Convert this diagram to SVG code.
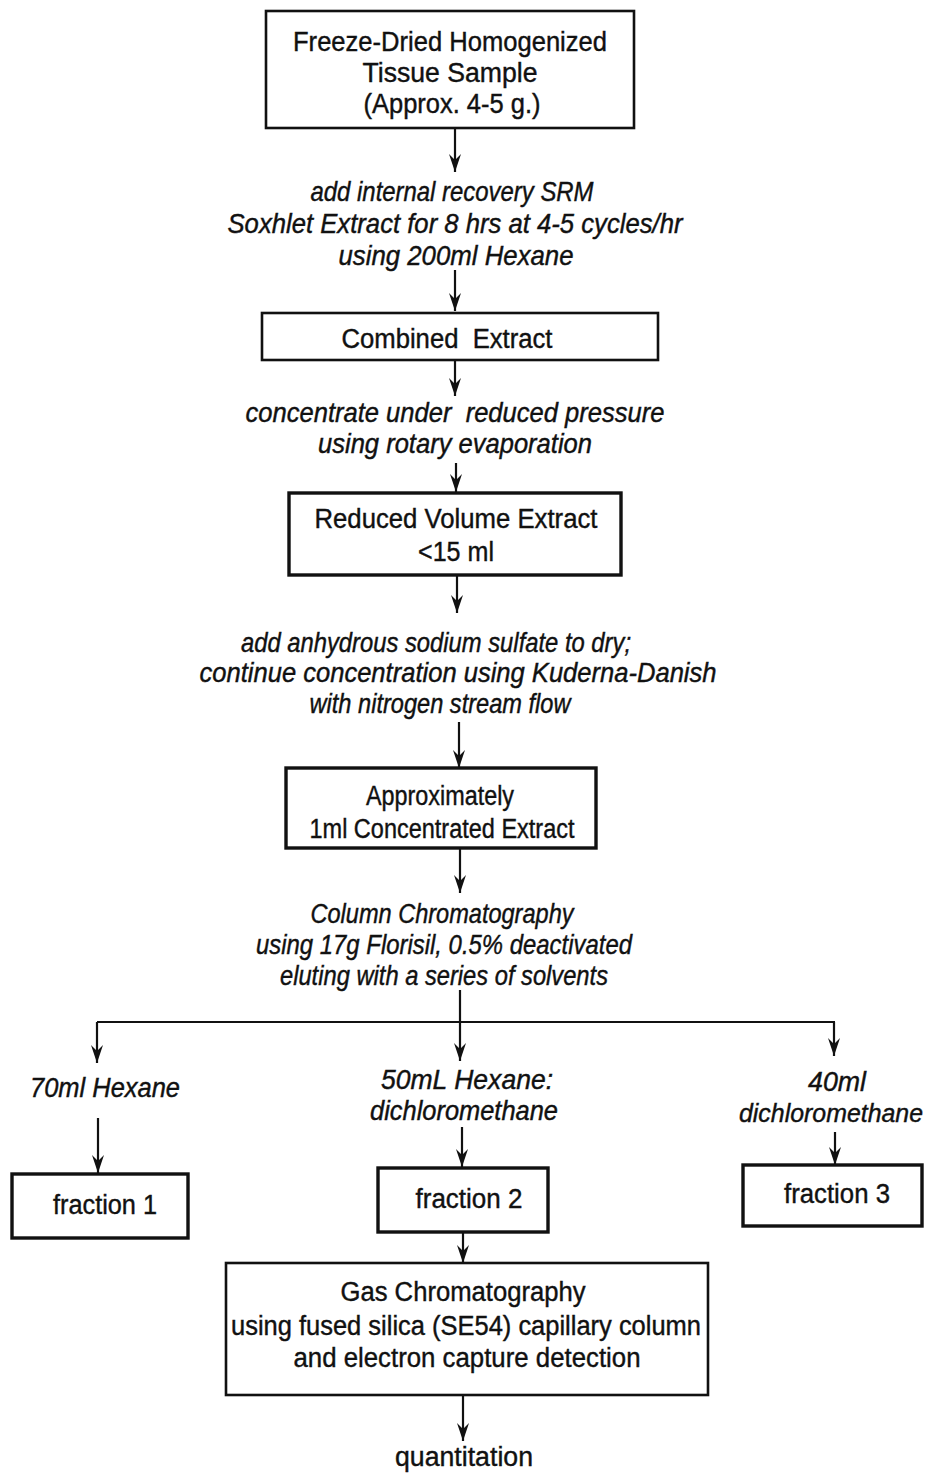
<svg xmlns="http://www.w3.org/2000/svg" width="931" height="1475" viewBox="0 0 931 1475">
<defs>
<marker id="ah" viewBox="0 0 18 12" refX="18" refY="6" markerWidth="18" markerHeight="12" markerUnits="userSpaceOnUse" orient="auto">
<path d="M0,0 L6,6 L0,12 L18,6 Z" fill="#111"/>
</marker>
<style>
.box{fill:#fff;stroke:#111;stroke-width:2.6}
.boxb{fill:#fff;stroke:#111;stroke-width:3.4}
.t{font-family:"Liberation Sans",Arial,sans-serif;font-size:27px;fill:#111;stroke:#111;stroke-width:0.4;text-anchor:middle}
.i{font-family:"Liberation Sans",Arial,sans-serif;font-size:27px;font-style:italic;fill:#111;stroke:#111;stroke-width:0.4;text-anchor:middle}
.c{stroke:#111;stroke-width:2.2;fill:none}
.ca{stroke:#111;stroke-width:2.2;fill:none;marker-end:url(#ah)}
</style>
</defs>
<rect width="931" height="1475" fill="#fff"/>

<g id="connectors">
<line class="ca" x1="455" y1="128" x2="455" y2="172"/>
<line class="ca" x1="455" y1="270" x2="455" y2="311"/>
<line class="ca" x1="455" y1="360" x2="455" y2="396"/>
<line class="ca" x1="456" y1="463" x2="456" y2="492"/>
<line class="ca" x1="457" y1="575" x2="457" y2="613"/>
<line class="ca" x1="459" y1="722" x2="459" y2="768"/>
<line class="ca" x1="460" y1="848" x2="460" y2="893"/>
<line class="c" x1="460" y1="990" x2="460" y2="1022"/>
<line class="c" x1="97" y1="1022" x2="835" y2="1022"/>
<line class="ca" x1="97" y1="1022" x2="97" y2="1063"/>
<line class="ca" x1="460" y1="1022" x2="460" y2="1061"/>
<line class="ca" x1="834" y1="1022" x2="834" y2="1056"/>
<line class="ca" x1="98" y1="1118" x2="98" y2="1173"/>
<line class="ca" x1="462" y1="1127" x2="462" y2="1167"/>
<line class="ca" x1="835" y1="1132" x2="835" y2="1165"/>
<line class="ca" x1="463" y1="1232" x2="463" y2="1263"/>
<line class="ca" x1="463" y1="1395" x2="463" y2="1441"/>
</g>

<g id="n-sample">
<rect class="box" x="266" y="11" width="368" height="117"/>
<text class="t" x="450" y="51" textLength="314" lengthAdjust="spacingAndGlyphs">Freeze-Dried Homogenized</text>
<text class="t" x="450" y="82" textLength="175" lengthAdjust="spacingAndGlyphs">Tissue Sample</text>
<text class="t" x="452" y="113" textLength="177" lengthAdjust="spacingAndGlyphs">(Approx. 4-5 g.)</text>
</g>

<g id="s-soxhlet">
<text class="i" x="452" y="201" textLength="283" lengthAdjust="spacingAndGlyphs">add internal recovery SRM</text>
<text class="i" x="455" y="233" textLength="455" lengthAdjust="spacingAndGlyphs">Soxhlet Extract for 8 hrs at 4-5 cycles/hr</text>
<text class="i" x="456" y="265" textLength="235" lengthAdjust="spacingAndGlyphs">using 200ml Hexane</text>
</g>

<g id="n-combined">
<rect class="box" x="262" y="313" width="396" height="47"/>
<text class="t" x="447" y="348" textLength="211" lengthAdjust="spacingAndGlyphs" xml:space="preserve">Combined  Extract</text>
</g>

<g id="s-concentrate">
<text class="i" x="455" y="422" textLength="419" lengthAdjust="spacingAndGlyphs" xml:space="preserve">concentrate under  reduced pressure</text>
<text class="i" x="455" y="453" textLength="274" lengthAdjust="spacingAndGlyphs">using rotary evaporation</text>
</g>

<g id="n-reduced">
<rect class="boxb" x="289" y="493" width="332" height="82"/>
<text class="t" x="456" y="528" textLength="283" lengthAdjust="spacingAndGlyphs">Reduced Volume Extract</text>
<text class="t" x="456" y="561" textLength="76" lengthAdjust="spacingAndGlyphs">&lt;15 ml</text>
</g>

<g id="s-dry">
<text class="i" x="436" y="652" textLength="390" lengthAdjust="spacingAndGlyphs">add anhydrous sodium sulfate to dry;</text>
<text class="i" x="458" y="682" textLength="517" lengthAdjust="spacingAndGlyphs">continue concentration using Kuderna-Danish</text>
<text class="i" x="440" y="713" textLength="261" lengthAdjust="spacingAndGlyphs">with nitrogen stream flow</text>
</g>

<g id="n-concentrated">
<rect class="boxb" x="286" y="768" width="310" height="80"/>
<text class="t" x="440" y="805" textLength="148" lengthAdjust="spacingAndGlyphs">Approximately</text>
<text class="t" x="442" y="838" textLength="265" lengthAdjust="spacingAndGlyphs">1ml Concentrated Extract</text>
</g>

<g id="s-column">
<text class="i" x="442" y="923" textLength="263" lengthAdjust="spacingAndGlyphs">Column Chromatography</text>
<text class="i" x="444" y="954" textLength="376" lengthAdjust="spacingAndGlyphs">using 17g Florisil, 0.5% deactivated</text>
<text class="i" x="444" y="985" textLength="328" lengthAdjust="spacingAndGlyphs">eluting with a series of solvents</text>
</g>

<g id="s-f1">
<text class="i" x="105" y="1097" textLength="150" lengthAdjust="spacingAndGlyphs">70ml Hexane</text>
</g>
<g id="s-f2">
<text class="i" x="467" y="1089" textLength="172" lengthAdjust="spacingAndGlyphs">50mL Hexane:</text>
<text class="i" x="464" y="1120" textLength="188" lengthAdjust="spacingAndGlyphs">dichloromethane</text>
</g>
<g id="s-f3">
<text class="i" x="837" y="1091" textLength="58" lengthAdjust="spacingAndGlyphs">40ml</text>
<text class="i" x="831" y="1122" style="font-size:25px" textLength="184" lengthAdjust="spacingAndGlyphs">dichloromethane</text>
</g>

<g id="n-fraction1">
<rect class="boxb" x="12" y="1174" width="176" height="64"/>
<text class="t" x="105" y="1214" textLength="104" lengthAdjust="spacingAndGlyphs">fraction 1</text>
</g>
<g id="n-fraction2">
<rect class="boxb" x="378" y="1168" width="170" height="64"/>
<text class="t" x="469" y="1208" textLength="107" lengthAdjust="spacingAndGlyphs">fraction 2</text>
</g>
<g id="n-fraction3">
<rect class="boxb" x="743" y="1165" width="179" height="61"/>
<text class="t" x="837" y="1203" textLength="106" lengthAdjust="spacingAndGlyphs">fraction 3</text>
</g>

<g id="n-gc">
<rect class="box" x="226" y="1263" width="482" height="132"/>
<text class="t" x="463" y="1301" textLength="245" lengthAdjust="spacingAndGlyphs">Gas Chromatography</text>
<text class="t" x="466" y="1335" textLength="470" lengthAdjust="spacingAndGlyphs">using fused silica (SE54) capillary column</text>
<text class="t" x="467" y="1367" textLength="347" lengthAdjust="spacingAndGlyphs">and electron capture detection</text>
</g>

<g id="s-quant">
<text class="t" x="464" y="1466" textLength="138" lengthAdjust="spacingAndGlyphs">quantitation</text>
</g>
</svg>
